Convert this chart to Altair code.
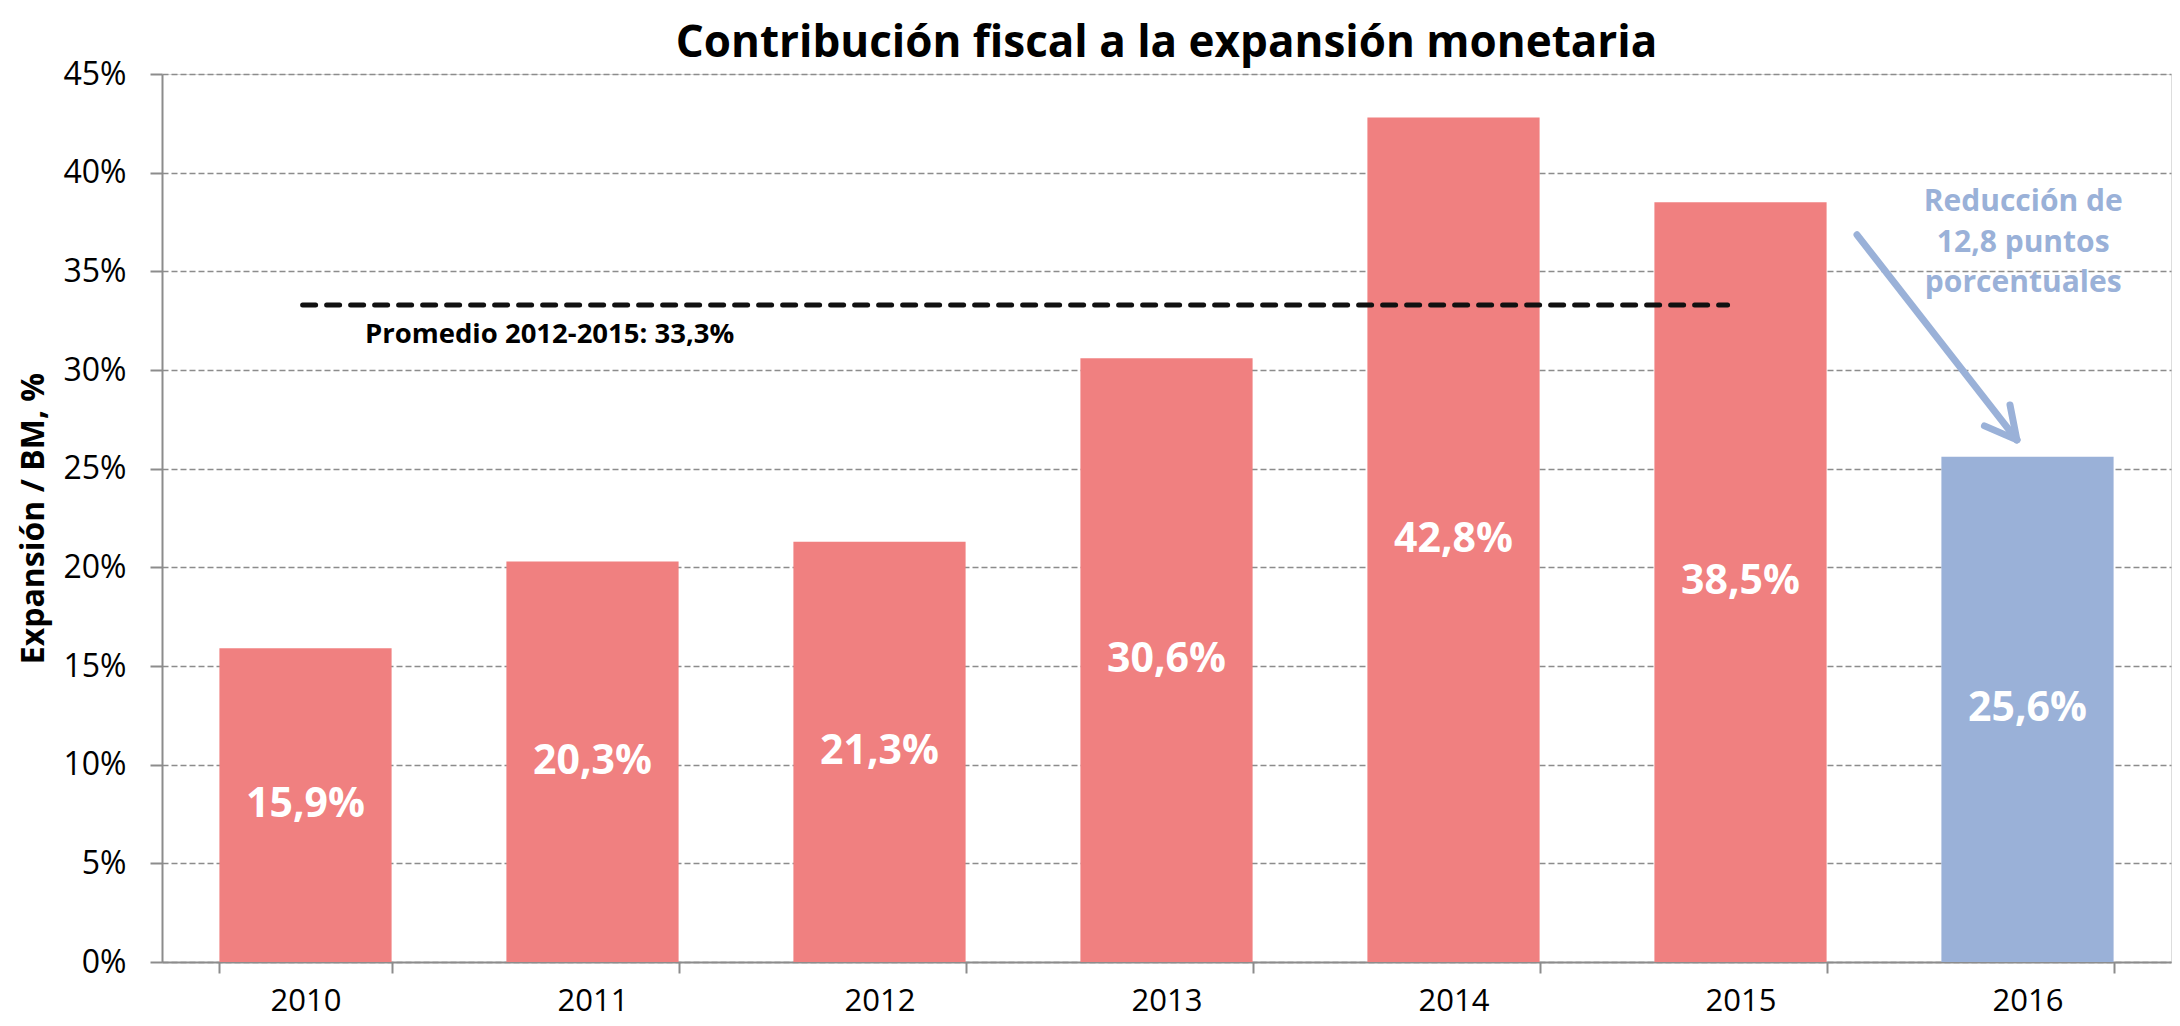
import altair as alt
import pandas as pd

# ---- data ----
years = ["2010", "2011", "2012", "2013", "2014", "2015", "2016"]
values = [15.9, 20.3, 21.3, 30.6, 42.8, 38.5, 25.6]
groups = ["Histórico", "Histórico", "Histórico", "Histórico", "Histórico", "Histórico", "2016"]

avg_value = 33.3
avg_label = "Promedio 2012-2015: 33,3%"
avg_span = [0.49, 5.455]         # position along the category axis, in band units
avg_label_pos = [0.707, 31.75]   # band units, %

arrow_x1 = [5.906, 6.463, 6.463]
arrow_y1 = [36.85, 26.46, 26.46]
arrow_x2 = [6.463, 6.439, 6.350]
arrow_y2 = [26.46, 28.23, 27.17]

note_lines = ["Reducción de", "12,8 puntos", "porcentuales"]
note_x = 6.485
note_y = [38.5, 36.45, 34.4]

title_text = "Contribución fiscal a la expansión monetaria"
y_title = "Expansión / BM, %"

PINK = "#F08080"
BLUE = "#9AB1D8"
FONT = "Open Sans"

# ---- tables ----
bars_df = pd.DataFrame({
    "year": years,
    "value": values,
    "group": groups,
    "label": [f"{v:.1f}%".replace(".", ",") for v in values],
})
avg_df = pd.DataFrame({"x": [avg_span[0]], "x2": [avg_span[1]], "y": [avg_value]})
avg_text_df = pd.DataFrame({"x": [avg_label_pos[0]], "y": [avg_label_pos[1]], "t": [avg_label]})
arrow_df = pd.DataFrame({"x": arrow_x1, "y": arrow_y1, "x2": arrow_x2, "y2": arrow_y2})
note_df = pd.DataFrame({"x": [note_x] * 3, "y": note_y, "t": note_lines})

W, H = 2009, 888

y_scale = alt.Scale(domain=[0, 45], nice=False, zero=True)
y_axis = alt.Axis(
    values=list(range(0, 50, 5)),
    labelExpr="datum.value + '%'",
    title=y_title,
    titleFont=FONT, titleFontSize=32, titleFontWeight="bold", titleColor="black",
    titlePadding=12,
    labelFont=FONT, labelFontSize=32, labelColor="black", labelPadding=24,
    tickSize=12, tickColor="#8c8c8c", tickWidth=2,
    domainColor="#8c8c8c", domainWidth=2,
    grid=True, gridColor="#8c8c8c", gridDash=[6, 3], gridWidth=1.5,
)

band_scale = alt.Scale(type="band", paddingInner=0.4, paddingOuter=0.2)
xcont = alt.Scale(domain=[0, 7], nice=False, zero=False)

bars = alt.Chart(bars_df).mark_bar().encode(
    x=alt.X("year:N", sort=years, scale=band_scale,
            axis=alt.Axis(title=None, labelAngle=0, labelFont=FONT, labelFontSize=31,
                          labelColor="black", labelPadding=13,
                          tickBand="extent", tickSize=11, tickColor="#8c8c8c", tickWidth=2,
                          domainColor="#8c8c8c", domainWidth=2, grid=False)),
    y=alt.Y("value:Q", scale=y_scale, axis=y_axis),
    color=alt.Color("group:N", scale=alt.Scale(domain=["Histórico", "2016"], range=[PINK, BLUE]),
                    legend=None),
)

bar_labels = alt.Chart(bars_df).transform_calculate(mid="datum.value / 2").mark_text(
    font=FONT, fontSize=41, fontWeight="bold", color="white", baseline="middle", align="center"
).encode(
    x=alt.X("year:N", sort=years, scale=band_scale, axis=None),
    y=alt.Y("mid:Q", scale=y_scale),
    text="label:N",
)

avg_rule = alt.Chart(avg_df).mark_rule(
    color="#111111", strokeWidth=5, strokeDash=[13, 11], strokeCap="round"
).encode(
    x=alt.X("x:Q", scale=xcont, axis=None),
    x2="x2:Q",
    y=alt.Y("y:Q", scale=y_scale),
)

avg_text = alt.Chart(avg_text_df).mark_text(
    font=FONT, fontSize=27.5, fontWeight="bold", color="black", align="left", baseline="middle"
).encode(
    x=alt.X("x:Q", scale=xcont, axis=None),
    y=alt.Y("y:Q", scale=y_scale),
    text="t:N",
)

arrow = alt.Chart(arrow_df).mark_rule(color=BLUE, strokeWidth=7, strokeCap="round").encode(
    x=alt.X("x:Q", scale=xcont, axis=None),
    x2="x2:Q",
    y=alt.Y("y:Q", scale=y_scale),
    y2="y2:Q",
)

note = alt.Chart(note_df).mark_text(
    font=FONT, fontSize=30, fontWeight="bold", color=BLUE, align="center", baseline="middle"
).encode(
    x=alt.X("x:Q", scale=xcont, axis=None),
    y=alt.Y("y:Q", scale=y_scale),
    text="t:N",
)

chart = alt.layer(bars, bar_labels, avg_rule, avg_text, arrow, note).resolve_scale(
    x="independent"
).properties(
    width=W, height=H,
    title=alt.TitleParams(title_text, font=FONT, fontSize=44, fontWeight="bold",
                          color="black", anchor="middle", offset=-8),
    autosize=alt.AutoSizeParams(type="none"),
    padding={"left": 154, "top": 66, "right": 1, "bottom": 56},
).configure_view(stroke=None).configure(background="white")

chart.save("out.html", embed_options={"renderer": "svg", "actions": False})
